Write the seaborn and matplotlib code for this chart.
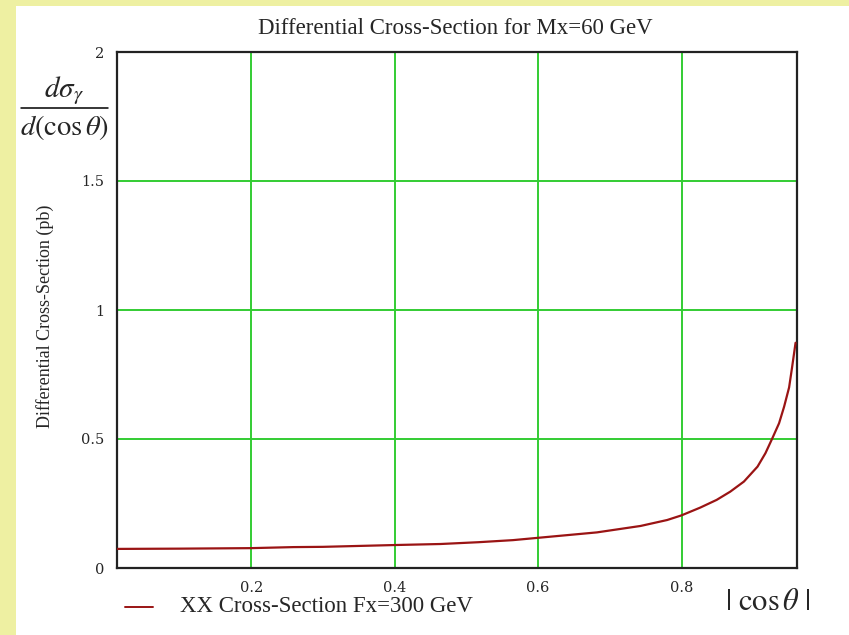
import numpy as np
import pandas as pd
import matplotlib
matplotlib.use("Agg")
import matplotlib.pyplot as plt
import seaborn as sns
from matplotlib.patches import Rectangle
from matplotlib.lines import Line2D

# |cos(theta)| sample points and differential cross-section (pb)
cos_theta = [0.013, 0.10, 0.20, 0.259, 0.30, 0.40, 0.464, 0.517, 0.565, 0.60,
             0.682, 0.743, 0.780, 0.80, 0.826, 0.849, 0.868, 0.887, 0.906,
             0.917, 0.926, 0.936, 0.943, 0.950, 0.954, 0.959]
cross_section = [0.074, 0.075, 0.077, 0.081, 0.082, 0.089, 0.093, 0.100, 0.108,
                 0.117, 0.138, 0.163, 0.186, 0.204, 0.234, 0.264, 0.296, 0.335,
                 0.393, 0.445, 0.499, 0.561, 0.625, 0.700, 0.775, 0.873]
series_label = "XX Cross-Section Fx=300 GeV"
x_ticks = [0.2, 0.4, 0.6, 0.8]
x_ticklabels = ["0.2", "0.4", "0.6", "0.8"]
y_ticks = [0, 0.5, 1, 1.5, 2]
y_ticklabels = ["0", "0.5", "1", "1.5", "2"]

df = pd.DataFrame({"cos": cos_theta, "xs": cross_section, "series": series_label})

sns.set_style("white")
plt.rcParams["font.family"] = ["Liberation Serif", "DejaVu Serif"]
plt.rcParams["mathtext.fontset"] = "stix"

W, H = 849, 635
fig = plt.figure(figsize=(W / 100, H / 100), dpi=100)
fig.patch.set_facecolor("#EEF0A2")
# white page area
fig.patches.append(Rectangle((16 / W, 0), 1 - 16 / W, 1 - 6 / H,
                             transform=fig.transFigure, facecolor="white",
                             edgecolor="none", zorder=-5))

L, R, T, B = 117, 797, 52, 568
ax = fig.add_axes([L / W, 1 - B / H, (R - L) / W, (B - T) / H])
ax.set_zorder(2)
ax.set_facecolor("white")

sns.lineplot(data=df, x="cos", y="xs", ax=ax, color="#9A1414", linewidth=1.6,
             legend=False, zorder=3)

ax.set_xlim(0.013, 0.961)
ax.set_ylim(0, 2)
ax.set_xticks(x_ticks)
ax.set_xticklabels(x_ticklabels, fontfamily="DejaVu Serif", fontsize=10.5)
ax.set_yticks(y_ticks)
ax.set_yticklabels(y_ticklabels, fontfamily="DejaVu Serif", fontsize=10.5)
ax.tick_params(length=0, pad=9)
ax.grid(True, color="#33CC33", linewidth=1.4)
for s in ax.spines.values():
    s.set_color("#222222")
    s.set_linewidth(1.6)
ax.set_xlabel("")
ax.set_ylabel("")

# title
fig.text(455 / W, 1 - 28 / H, "Differential Cross-Section for Mx=60 GeV",
         ha="center", va="center", fontsize=16.5)
# rotated axis title
fig.text(45 / W, 1 - 316 / H, "Differential Cross-Section (pb)", rotation=90,
         ha="center", va="center", fontsize=13)
# fraction label at top-left
fig.text(64 / W, 1 - 91 / H, r"$d\sigma_\gamma$", ha="center", va="center",
         fontsize=21)
fig.add_artist(Line2D([21 / W, 108 / W], [1 - 108 / H, 1 - 108 / H],
                      transform=fig.transFigure, color="black", linewidth=1.1))
fig.text(64 / W, 1 - 128 / H, r"$d(\cos\theta)$", ha="center", va="center",
         fontsize=20.5)
# x-axis symbol
fig.text(768 / W, 1 - 603 / H, r"$|\ \cos\theta\ |$", ha="center", va="center",
         fontsize=22)

# legend entry
fig.add_artist(Line2D([125 / W, 153 / W], [1 - 607 / H, 1 - 607 / H],
                      transform=fig.transFigure, color="#9A1414", linewidth=1.4))
fig.text(180 / W, 1 - 607 / H, series_label, ha="left", va="center",
         fontsize=16.5)

fig.savefig("out.png", dpi=100)
